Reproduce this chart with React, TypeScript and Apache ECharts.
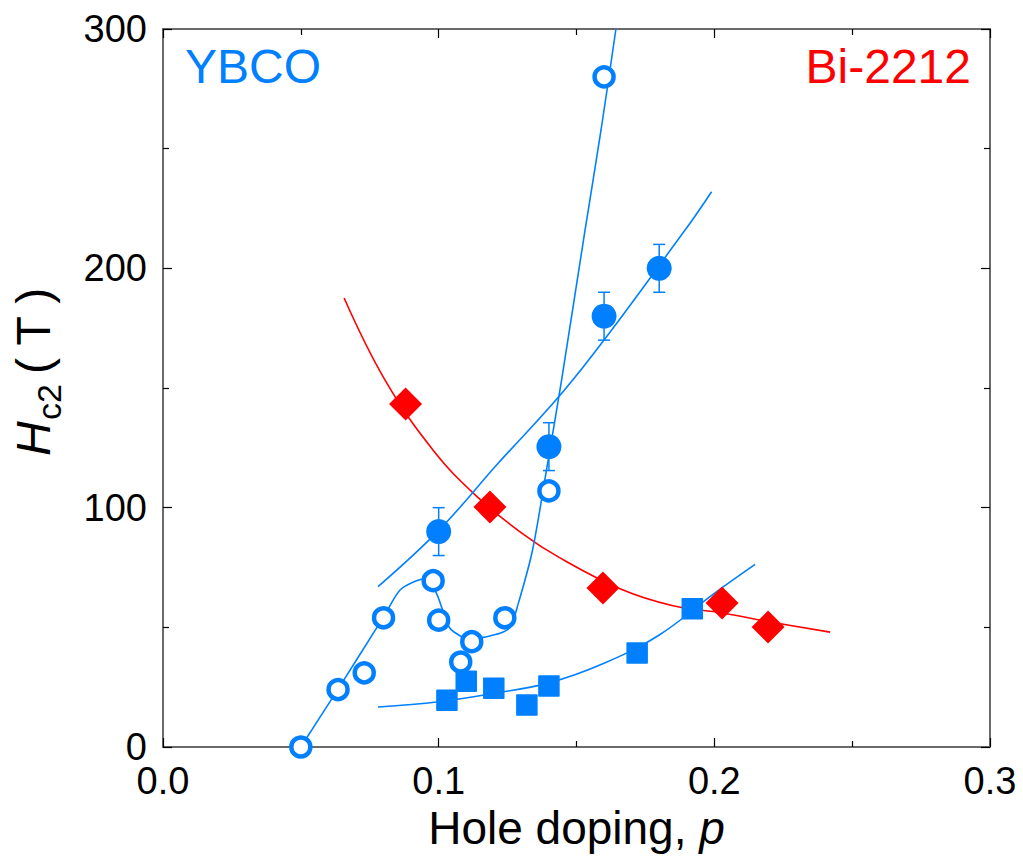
import React, { useEffect, useRef } from "react";
import * as echarts from "echarts";

const BLUE = "#0080ff";
const RED = "#ff0000";
const FONT = "'Liberation Sans', Arial, Helvetica, sans-serif";

// axis ranges / ticks
const xMin = 0, xMax = 0.3, xStep = 0.1;
const yMin = 0, yMax = 300, yStep = 100;

// YBCO open circles
const openP = [0.05, 0.0635, 0.073, 0.08, 0.098, 0.1, 0.108, 0.112, 0.124, 0.14, 0.16];
const openH = [0, 24, 31, 54, 69.5, 53, 35.5, 44, 54, 107, 280];

// YBCO filled circles with error bars
const fillP = [0.1, 0.14, 0.16, 0.18];
const fillH = [90, 125.5, 180, 200];
const fillErr = [10, 10, 10, 10];

// YBCO filled squares
const sqP = [0.103, 0.11, 0.12, 0.132, 0.14, 0.172, 0.192];
const sqH = [19.5, 27.5, 24.5, 17.5, 25.5, 39.3, 57.8];

// Bi-2212 diamonds
const diaP = [0.088, 0.1186, 0.1596, 0.2028, 0.2195];
const diaH = [143.3, 100.3, 66.4, 60.2, 50.1];

// guide curves
const redCurveP = [0.0657, 0.0805, 0.098, 0.114, 0.13, 0.144, 0.166, 0.185, 0.2028, 0.22, 0.242];
const redCurveH = [187.6, 153.4, 124, 104.5, 89.5, 79, 66, 59, 56, 52.3, 48];

const fillCurveP = [0.078, 0.1, 0.121, 0.1487, 0.1894, 0.199];
const fillCurveH = [67, 90.5, 117.8, 153.4, 216, 232];

const openCurveP = [0.05, 0.0635, 0.0782, 0.08, 0.086, 0.092, 0.0955, 0.0992, 0.1013, 0.1041, 0.1083, 0.1117, 0.1162, 0.1222, 0.1259, 0.1289, 0.134, 0.139, 0.1446, 0.1531, 0.1589, 0.1643];
const openCurveH = [0, 24.2, 51, 54.3, 65.6, 69.5, 70.3, 64.2, 57.7, 49.6, 46.1, 44.5, 45.8, 47.5, 50, 60, 82, 115, 153.4, 216, 257.8, 300];

const sqCurveP = [0.078, 0.1, 0.12, 0.14, 0.16, 0.18, 0.2, 0.2148];
const sqCurveH = [16.7, 18.9, 22.4, 26.8, 35, 46.8, 64.2, 76.3];

const zip = (a: number[], b: number[]) => a.map((v, i) => [v, b[i]]);

function axisBase(extra: any) {
  return {
    type: "value",
    axisLine: { show: true, onZero: false, lineStyle: { color: "#6a6a6a", width: 2 } },
    axisTick: { show: true, inside: true, length: 9, lineStyle: { color: "#000", width: 1.2 } },
    minorTick: { show: true, splitNumber: 2, length: 6, lineStyle: { color: "#000", width: 1.2 } },
    splitLine: { show: false },
    minorSplitLine: { show: false },
    ...extra,
  };
}

export default function App() {
  const ref = useRef<HTMLDivElement>(null);
  useEffect(() => {
    const chart = echarts.init(ref.current!, null, { renderer: "svg" });
    const lineSeries = (p: number[], h: number[], color: string, smooth: number) => ({
      type: "line",
      data: zip(p, h),
      smooth,
      showSymbol: false,
      symbol: "none",
      lineStyle: { color, width: 1.6, opacity: 1 },
      z: 2,
      silent: true,
    });
    const errData = fillP.map((p, i) => [p, fillH[i] - fillErr[i], fillH[i] + fillErr[i]]);
    const option: any = {
      animation: false,
      backgroundColor: "#fff",
      grid: { left: 163, top: 29, right: 33, bottom: 110, containLabel: false, outerBoundsMode: "none" },
      xAxis: [
        axisBase({
          position: "bottom",
          min: xMin,
          max: xMax,
          interval: xStep,
          axisLabel: { fontSize: 38, lineHeight: 30, color: "#000", margin: 19, fontFamily: FONT, formatter: (v: number) => v.toFixed(1) },
          name: "{a|Hole doping, }{b|p}",
          nameLocation: "middle",
          nameGap: 51,
          nameTextStyle: {
            rich: {
              a: { fontSize: 46, color: "#000", fontFamily: FONT },
              b: { fontSize: 46, color: "#000", fontFamily: FONT, fontStyle: "italic" },
            },
          },
        }),
        axisBase({ position: "top", min: xMin, max: xMax, interval: xStep, axisLabel: { show: false } }),
      ],
      yAxis: [
        axisBase({
          position: "left",
          min: yMin,
          max: yMax,
          interval: yStep,
          axisLabel: { fontSize: 38, lineHeight: 28, color: "#000", margin: 16, fontFamily: FONT, padding: [0, 0, 12, 0] },
        }),
        axisBase({ position: "right", min: yMin, max: yMax, interval: yStep, axisLabel: { show: false } }),
      ],
      graphic: [
        { type: "text", x: 185, y: 42, style: { text: "YBCO", fill: BLUE, fontSize: 48, fontFamily: FONT, verticalAlign: "top", align: "left" } },
        { type: "text", x: 971, y: 42, style: { text: "Bi-2212", fill: RED, fontSize: 48, fontFamily: FONT, verticalAlign: "top", align: "right" } },
        {
          type: "group",
          x: 33,
          y: 456,
          rotation: Math.PI / 2,
          children: [
            { type: "text", x: 0, y: 0, style: { text: "H", fill: "#000", fontSize: 48, fontStyle: "italic", fontFamily: FONT, verticalAlign: "middle", align: "left" } },
            { type: "text", x: 36, y: 16, style: { text: "c2", fill: "#000", fontSize: 34, fontFamily: FONT, verticalAlign: "middle", align: "left" } },
            { type: "text", x: 82, y: 0, style: { text: "( T )", fill: "#000", fontSize: 48, fontFamily: FONT, verticalAlign: "middle", align: "left" } },
          ],
        },
      ],
      series: [
        lineSeries(redCurveP, redCurveH, RED, 0.4),
        lineSeries(fillCurveP, fillCurveH, BLUE, 0.4),
        lineSeries(openCurveP, openCurveH, BLUE, 0.3),
        lineSeries(sqCurveP, sqCurveH, BLUE, 0.4),
        {
          type: "custom",
          data: errData,
          z: 3,
          silent: true,
          renderItem: (params: any, api: any) => {
            const x = api.value(0);
            const top = api.coord([x, api.value(2)]);
            const bot = api.coord([x, api.value(1)]);
            const w = 6;
            const st = { stroke: BLUE, lineWidth: 1.5 };
            return {
              type: "group",
              children: [
                { type: "line", shape: { x1: top[0], y1: top[1], x2: bot[0], y2: bot[1] }, style: st },
                { type: "line", shape: { x1: top[0] - w, y1: top[1], x2: top[0] + w, y2: top[1] }, style: st },
                { type: "line", shape: { x1: bot[0] - w, y1: bot[1], x2: bot[0] + w, y2: bot[1] }, style: st },
              ],
            };
          },
        },
        {
          type: "scatter",
          data: zip(sqP, sqH),
          symbol: "rect",
          symbolSize: 20,
          itemStyle: { color: BLUE, borderColor: BLUE, borderWidth: 1.5, borderJoin: "round", opacity: 1 },
          z: 4,
          silent: true,
        },
        {
          type: "scatter",
          data: zip(openP, openH),
          symbol: "circle",
          symbolSize: 19,
          itemStyle: { color: "#fff", borderColor: BLUE, borderWidth: 4.5, opacity: 1 },
          z: 5,
          silent: true,
        },
        {
          type: "scatter",
          data: zip(fillP, fillH),
          symbol: "circle",
          symbolSize: 25,
          itemStyle: { color: BLUE, opacity: 1 },
          z: 5,
          silent: true,
        },
        {
          type: "scatter",
          data: zip(diaP, diaH),
          symbol: "diamond",
          symbolSize: 33,
          itemStyle: { color: RED, opacity: 1 },
          z: 6,
          silent: true,
        },
      ],
    };
    chart.setOption(option);
    return () => chart.dispose();
  }, []);
  return (
    <div
      ref={ref}
      style={{ position: "fixed", left: 0, top: 0, width: 1023, height: 857, background: "#fff" }}
    />
  );
}
